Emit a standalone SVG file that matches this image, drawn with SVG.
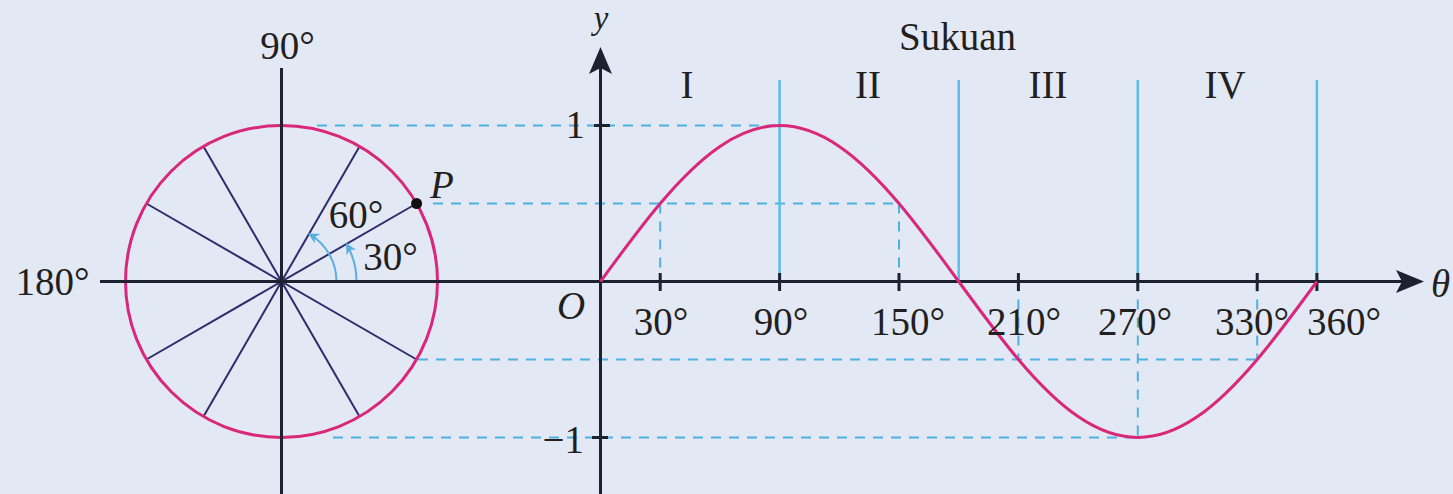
<svg xmlns="http://www.w3.org/2000/svg" width="1453" height="494" viewBox="0 0 1453 494">
<defs>
<style>
.t{font-family:"Liberation Serif","Times New Roman",serif;font-size:39px;fill:#231f20}
.i{font-style:italic}
.m{text-anchor:middle}
.ax{stroke:#1c2230;stroke-width:3;fill:none}
.sp{stroke:#2d2d6e;stroke-width:2;fill:none}
.mg{stroke:#d9277a;stroke-width:3;fill:none}
.dsh{stroke:#4fb0e2;stroke-width:2;stroke-dasharray:10 8;fill:none}
.q{stroke:#5bbbea;stroke-width:2.5;fill:none}
.arc{stroke:#5aaee0;stroke-width:2;fill:none}
</style>
<marker id="ah" viewBox="0 0 10 10" refX="9" refY="5" markerWidth="11" markerHeight="11" markerUnits="userSpaceOnUse" orient="auto">
<path d="M0,0 L10,5 L0,10 L3,5 Z" fill="#5aaee0"/>
</marker>
</defs>
<rect width="1453" height="494" fill="#e3e9f4"/>

<g id="guides">
<path class="dsh" d="M317,125.5 H779.6 M433,203.5 H899 M418,359.5 H1257.2 M333,437.5 H1137.8"/>
<path class="dsh" d="M660.2,203.5 V281.5 M899,203.5 V281.5 M1018.4,281.5 V359.5 M1257.2,281.5 V359.5 M1137.8,281.5 V437.5"/>
<path class="q" d="M779.6,80 V281.5 M958.7,80 V281.5 M1137.8,80 V281.5 M1316.9,80 V281.5"/>
</g>

<g id="unit-circle">
<path class="sp" d="M416.6,203.5 L146.4,359.5 M359.5,146.4 L203.5,416.6 M203.5,146.4 L359.5,416.6 M146.4,203.5 L416.6,359.5"/>
<circle cx="281.5" cy="281.5" r="156" class="mg"/>
<path class="arc" d="M336.5,281.5 A55,55 0 0 0 309,233.9" marker-end="url(#ah)"/>
<path class="arc" d="M356.5,281.5 A75,75 0 0 0 346.5,244" marker-end="url(#ah)"/>
<circle cx="416.6" cy="203.5" r="5.5" fill="#111"/>
</g>

<g id="axes">
<path class="ax" d="M281.5,68 V494"/>
<path class="ax" d="M100,281.5 H1405"/>
<path d="M1424,281.5 L1396,270 L1402,281.5 L1396,293 Z" fill="#1c2230"/>
<path class="ax" d="M600.5,494 V66"/>
<path d="M600.5,47 L589,74 L600.5,68 L612,74 Z" fill="#1c2230"/>
<path class="ax" d="M594,125.5 H610 M592,437.5 H608"/>
<path class="ax" d="M660.2,273 V291 M779.6,273 V291 M899,273 V291 M1018.4,273 V291 M1137.8,273 V291 M1257.2,273 V291 M1316.9,273 V291"/>
</g>

<g id="sine-curve">
<path class="mg" d="M600.5,281.5 C620.4,254.27 640.3,227.08 660.2,203.5 C680.1,179.92 700,160.01 719.9,146.4 C739.8,132.79 759.7,125.5 779.6,125.5 C799.5,125.5 819.4,132.79 839.3,146.4 C859.2,160.01 879.1,179.92 899,203.5 C918.9,227.08 938.8,254.27 958.7,281.5 C978.6,308.73 998.5,335.92 1018.4,359.5 C1038.3,383.08 1058.2,402.99 1078.1,416.6 C1098,430.21 1117.9,437.5 1137.8,437.5 C1157.7,437.5 1177.6,430.21 1197.5,416.6 C1217.4,402.99 1237.3,383.08 1257.2,359.5 C1277.1,335.92 1297,308.73 1316.9,281.5"/>
</g>

<g id="labels">
<text class="t m" x="287.5" y="59">90°</text>
<text class="t m" x="52.5" y="295">180°</text>
<text class="t i" x="430" y="198">P</text>
<text class="t m" x="356" y="228">60°</text>
<text class="t m" x="390.5" y="270">30°</text>
<text class="t i m" x="601" y="29" style="font-size:33px">y</text>
<text class="t m" x="957.5" y="50">Sukuan</text>
<text class="t m" x="687" y="98">I</text>
<text class="t m" x="868" y="98">II</text>
<text class="t m" x="1048" y="98">III</text>
<text class="t m" x="1225" y="98">IV</text>
<text class="t" x="585" y="138" text-anchor="end">1</text>
<text class="t" x="584" y="453" text-anchor="end">−1</text>
<text class="t i" x="557" y="319">O</text>
<text class="t m" x="661" y="335">30°</text>
<text class="t m" x="781" y="335">90°</text>
<text class="t m" x="908" y="335">150°</text>
<text class="t m" x="1024" y="335">210°</text>
<text class="t m" x="1135" y="335">270°</text>
<text class="t m" x="1252" y="335">330°</text>
<text class="t m" x="1344" y="335">360°</text>
<text class="t i" x="1431" y="297">θ</text>
</g>
</svg>
